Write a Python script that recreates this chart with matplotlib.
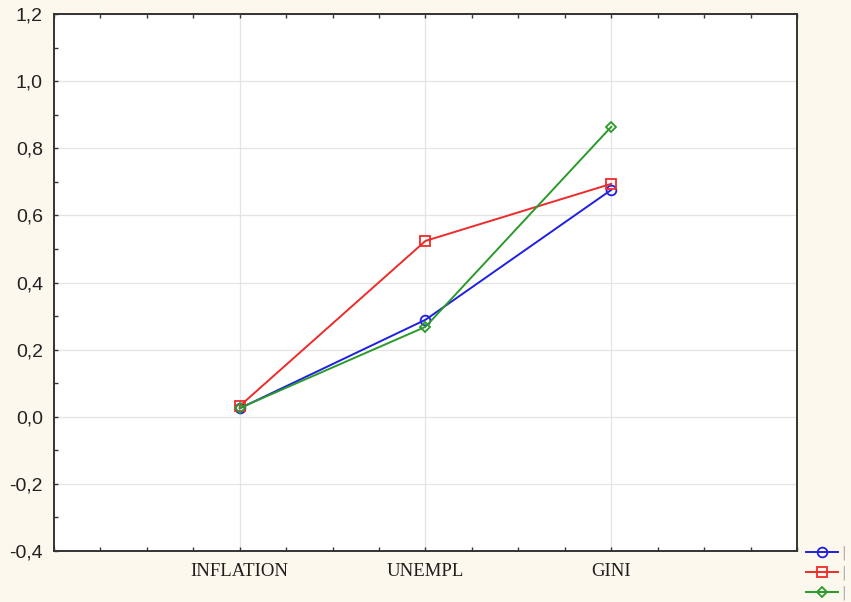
import matplotlib
matplotlib.use("Agg")
import matplotlib.pyplot as plt
from matplotlib.ticker import MultipleLocator, FixedLocator

categories = ["INFLATION", "UNEMPL", "GINI"]
series_blue = [0.025, 0.289, 0.676]
series_red = [0.032, 0.524, 0.694]
series_green = [0.026, 0.268, 0.864]
y_ticks = [-0.4, -0.2, 0.0, 0.2, 0.4, 0.6, 0.8, 1.0, 1.2]
legend_labels = ["|", "|", "|"]

bg = "#fcf8ee"
fig = plt.figure(figsize=(8.51, 6.02), dpi=100, facecolor=bg)
ax = fig.add_axes([54 / 851, 51 / 602, 743 / 851, 537 / 602])
ax.set_facecolor("white")

xpos = list(range(1, len(categories) + 1))
h1, = ax.plot(xpos, series_blue, color="#2020e0", lw=1.4, marker="o",
              ms=7, mfc="none", mec="#2020e0", mew=1.3)
h2, = ax.plot(xpos, series_red, color="#f02a2a", lw=1.4, marker="s",
              ms=7, mfc="none", mec="#f02a2a", mew=1.3)
h3, = ax.plot(xpos, series_green, color="#2a9a2a", lw=1.4, marker="D",
              ms=5.5, mfc="none", mec="#2a9a2a", mew=1.3)

ax.set_xlim(0, 4)
ax.set_ylim(-0.4, 1.2)
ax.xaxis.set_major_locator(FixedLocator(xpos))
ax.xaxis.set_minor_locator(MultipleLocator(0.25))
ax.set_xticklabels(categories, family="Liberation Serif", fontsize=13.5,
                   color="#1e1e1e")
ax.yaxis.set_major_locator(FixedLocator(y_ticks))
ax.yaxis.set_minor_locator(MultipleLocator(0.1))
ax.set_yticklabels([f"{v:.1f}".replace(".", ",") for v in y_ticks],
                   family="Liberation Sans", fontsize=14, color="#222222")

ax.tick_params(which="both", direction="in", length=3, width=1,
               color="#333333", top=True, right=False)
ax.tick_params(axis="x", which="major", pad=9)
ax.tick_params(axis="y", which="major", pad=8)
ax.grid(True, which="major", color="#e4e4e4", lw=0.9)
ax.set_axisbelow(True)
for s in ax.spines.values():
    s.set_color("#333333")
    s.set_linewidth(1.4)

leg = fig.legend([h1, h2, h3], legend_labels, loc="upper left",
                 bbox_to_anchor=(800 / 851, 1 - 540 / 602), frameon=False,
                 handlelength=2.3, handletextpad=0.3, labelspacing=0.4,
                 fontsize=10, borderaxespad=0)
for t in leg.get_texts():
    t.set_color("#aaaaaa")

fig.savefig("out.png", dpi=100, facecolor=bg)
